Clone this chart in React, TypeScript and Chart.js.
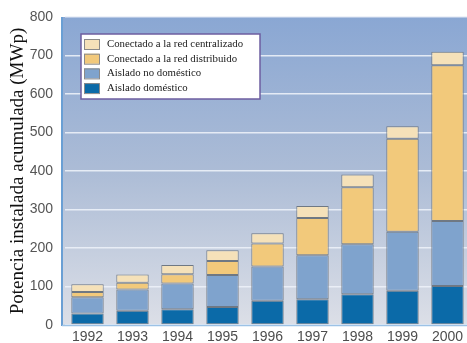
import React, { useEffect, useRef } from "react";
import { Chart, registerables } from "chart.js";

Chart.register(...registerables);

const years = ["1992", "1993", "1994", "1995", "1996", "1997", "1998", "1999", "2000"];
const aisladoDomestico = [30, 37, 41, 47, 63, 67, 80, 89, 101];
const aisladoNoDomestico = [42, 55, 67, 83, 89, 114, 130, 153, 169];
const redDistribuido = [14, 18, 24, 36, 60, 97, 148, 242, 405];
const redCentralizado = [20, 21, 24, 28, 26, 31, 33, 32, 35];
const yTicks = [0, 100, 200, 300, 400, 500, 600, 700, 800];

const seriesLabels = [
  "Aislado doméstico",
  "Aislado no doméstico",
  "Conectado a la red distribuido",
  "Conectado a la red centralizado",
];
const seriesColors = ["#0b6aa8", "#7fa3cd", "#f2c97b", "#f5e1b9"];

const backgroundPlugin = {
  id: "plotBackground",
  beforeDraw(chart: any) {
    const { ctx, chartArea } = chart;
    const left = chartArea.left - 3;
    const g = ctx.createLinearGradient(0, chartArea.top, 0, chartArea.bottom);
    g.addColorStop(0, "#8aa7d3");
    g.addColorStop(0.5, "#acbcd6");
    g.addColorStop(1, "#dcdfe7");
    ctx.save();
    ctx.fillStyle = g;
    ctx.fillRect(left, chartArea.top, chartArea.right - left, chartArea.bottom - chartArea.top);
    ctx.restore();
  },
  afterDraw(chart: any) {
    const { ctx, chartArea } = chart;
    const left = chartArea.left - 3;
    ctx.save();
    ctx.strokeStyle = "#6a9fd4";
    ctx.lineWidth = 2;
    ctx.beginPath();
    ctx.moveTo(left, chartArea.top);
    ctx.lineTo(left, chartArea.bottom + 1);
    ctx.stroke();
    ctx.strokeStyle = "#9cc2e6";
    ctx.lineWidth = 1.5;
    ctx.beginPath();
    ctx.moveTo(left, chartArea.bottom + 0.5);
    ctx.lineTo(chartArea.right, chartArea.bottom + 0.5);
    ctx.stroke();

    const bx = 81, by = 34, bw = 179, bh = 65;
    ctx.fillStyle = "#ffffff";
    ctx.fillRect(bx, by, bw, bh);
    ctx.strokeStyle = "#6d5ea0";
    ctx.lineWidth = 1.5;
    ctx.strokeRect(bx, by, bw, bh);
    const ds = chart.data.datasets.slice().reverse();
    ctx.font = '10.8px "Liberation Serif"';
    ctx.textBaseline = "middle";
    ds.forEach((d: any, i: number) => {
      const cy = 44 + i * 14.7;
      ctx.fillStyle = d.backgroundColor;
      ctx.fillRect(84, cy - 5, 15, 10);
      ctx.strokeStyle = "#8a8a8a";
      ctx.lineWidth = 1;
      ctx.strokeRect(84.5, cy - 4.5, 15, 10);
      ctx.fillStyle = "#1a1a1a";
      ctx.fillText(d.label, 107, cy);
    });
    ctx.restore();
  },
};

export default function App() {
  const ref = useRef<HTMLCanvasElement | null>(null);
  useEffect(() => {
    if (!ref.current) return;
    const data = [aisladoDomestico, aisladoNoDomestico, redDistribuido, redCentralizado];
    const chart = new Chart(ref.current, {
      type: "bar",
      data: {
        labels: years,
        datasets: data.map((d, i) => ({
          label: seriesLabels[i],
          data: d,
          backgroundColor: seriesColors[i],
          borderColor: "#6f7883",
          borderWidth: 1,
          borderSkipped: false,
          barPercentage: 0.72,
          categoryPercentage: 1,
        })),
      },
      options: {
        responsive: false,
        animation: false,
        devicePixelRatio: 1,
        layout: { padding: { top: 17, left: 0, right: 0, bottom: 0 } },
        plugins: { legend: { display: false }, tooltip: { enabled: false } },
        scales: {
          x: {
            stacked: true,
            grid: { display: false, drawTicks: false, tickLength: 0 },
            border: { display: false },
            ticks: {
              color: "#4d4d4d",
              font: { family: '"Liberation Sans", Arial, sans-serif', size: 14 },
              padding: 4,
              maxRotation: 0,
              autoSkip: false,
            },
            afterFit(scale: any) {
              scale.height = 18;
              scale.paddingLeft = 0;
              scale.paddingRight = 0;
            },
          },
          y: {
            stacked: true,
            min: 0,
            max: 800,
            afterBuildTicks(scale: any) {
              scale.ticks = yTicks.map((v) => ({ value: v }));
            },
            grid: {
              color: "rgba(236,241,248,0.9)",
              lineWidth: 1.5,
              drawTicks: false,
            },
            border: { display: false },
            ticks: {
              color: "#555555",
              font: { family: '"Liberation Sans", Arial, sans-serif', size: 14 },
              padding: 12,
            },
            title: {
              display: true,
              text: "Potencia instalada acumulada (MWp)",
              color: "#111111",
              font: { family: '"Liberation Serif", serif', size: 19 },
              padding: { top: 7, bottom: 0 },
            },
            afterFit(scale: any) {
              scale.width = 65;
              scale.paddingTop = 0;
              scale.paddingBottom = 0;
            },
          },
        },
      },
      plugins: [backgroundPlugin],
    });
    return () => chart.destroy();
  }, []);
  return (
    <div
      style={{
        position: "fixed",
        left: 0,
        top: 0,
        width: 467,
        height: 343,
        overflow: "hidden",
        background: "#ffffff",
      }}
    >
      <canvas ref={ref} width={470} height={343} style={{ display: "block" }} />
    </div>
  );
}
